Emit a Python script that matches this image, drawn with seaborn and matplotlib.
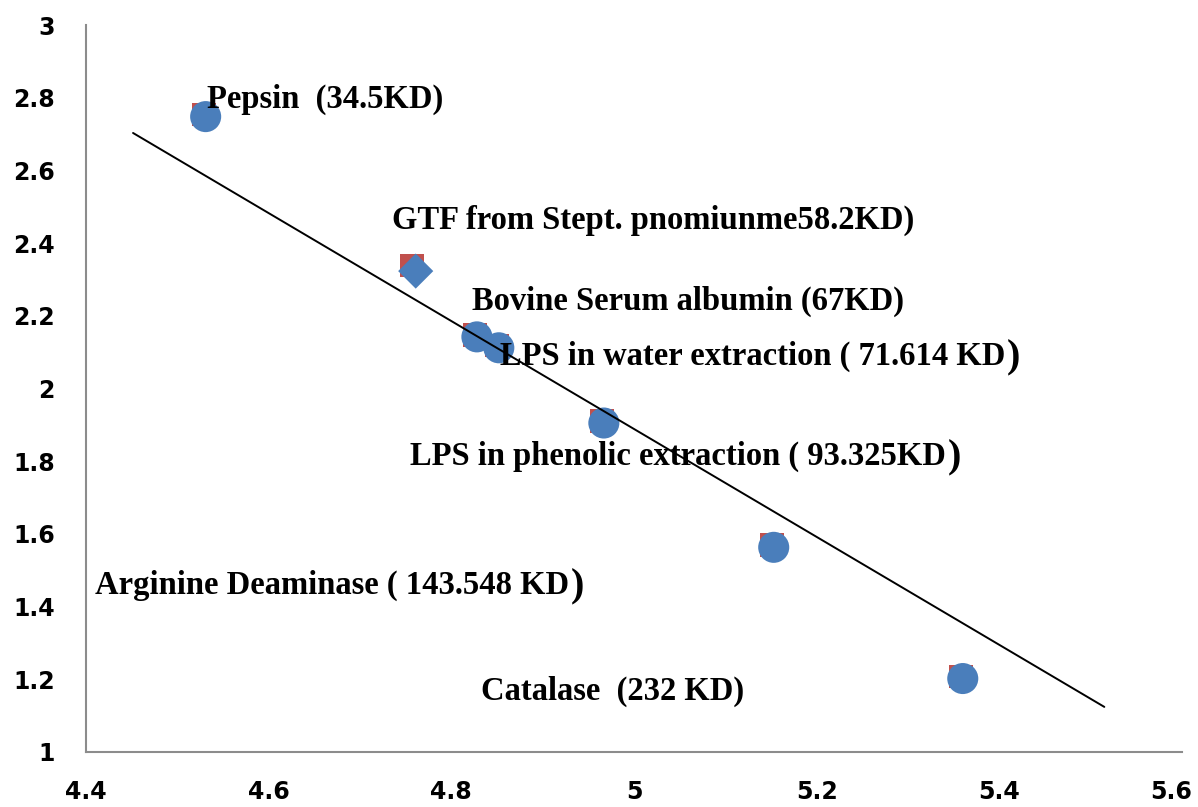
import matplotlib
matplotlib.use("Agg")
import matplotlib.pyplot as plt
import matplotlib.transforms as mtransforms
import seaborn as sns
import pandas as pd
import numpy as np

# log10 molecular weight vs. relative mobility of standard proteins
proteins = ["Pepsin", "GTF", "BSA", "LPS water", "LPS phenolic", "Arginine Deaminase", "Catalase"]
log_mw = [4.531, 4.761, 4.828, 4.852, 4.967, 5.153, 5.360]
mobility = [2.748, 2.323, 2.142, 2.112, 1.905, 1.563, 1.202]
marker_kind = ["circle", "diamond", "circle", "circle", "circle", "circle", "circle"]

# reference series drawn underneath
ref_log_mw = [4.529, 4.757, 4.826, 4.850, 4.965, 5.151, 5.358]
ref_mobility = [2.754, 2.338, 2.148, 2.118, 1.911, 1.569, 1.208]

# linear trend line end points
trend_x = [4.4515, 5.515]
trend_y = [2.703, 1.124]

labels = [
    "Pepsin  (34.5KD)",
    "GTF from Stept. pnomiunme58.2KD)",
    "Bovine Serum albumin (67KD)",
    "LPS in water extraction ( 71.614 KD",
    "LPS in phenolic extraction ( 93.325KD",
    "Arginine Deaminase ( 143.548 KD",
    "Catalase  (232 KD)",
]
label_x = [4.533, 4.735, 4.823, 4.853, 4.755, 4.410, 4.833]
label_y = [2.795, 2.462, 2.240, 2.089, 1.813, 1.458, 1.167]
big_paren = [False, False, False, True, True, True, False]

sns.set_theme(style="white")
plt.rcParams["font.family"] = ["DejaVu Sans"]
plt.rcParams["text.color"] = "black"

fig = plt.figure(figsize=(11.98, 8.07), dpi=100)
ax = fig.add_axes([0.0718, 0.0682, 0.9148, 0.9008])

ref = pd.DataFrame({"x": ref_log_mw, "y": ref_mobility})
sns.scatterplot(data=ref, x="x", y="y", marker="s", s=290, color="#C0504D",
                edgecolor="none", ax=ax, zorder=2)

df = pd.DataFrame({"x": log_mw, "y": mobility, "kind": marker_kind})
sns.scatterplot(data=df, x="x", y="y", style="kind",
                markers={"circle": "o", "diamond": "D"},
                size="kind", sizes={"circle": 500, "diamond": 320},
                color="#4A7EBB", edgecolor="none", legend=False, ax=ax, zorder=3)

sns.lineplot(x=trend_x, y=trend_y, color="black", linewidth=1.4, ax=ax, zorder=4)

serif = ["Liberation Serif", "DejaVu Serif"]
for txt, tx, ty, bp in zip(labels, label_x, label_y, big_paren):
    t = ax.text(tx, ty, txt, fontsize=23.5, fontweight="bold", family=serif,
                color="black", va="center", ha="left", zorder=5)
    if bp:
        ax.annotate(")", xy=(1.0, 0.45), xycoords=t, xytext=(1, 0),
                    textcoords="offset points", fontsize=29, fontweight="bold",
                    family=serif, color="black", va="center", ha="left", zorder=5)

ax.set_xlim(4.4, 5.6)
ax.set_ylim(1, 3)
ax.set_xticks(np.arange(4.4, 5.61, 0.2))
ax.set_yticks(np.arange(1.0, 3.01, 0.2))
ax.set_xticklabels(["4.4", "4.6", "4.8", "5", "5.2", "5.4", "5.6"])
ax.set_yticklabels(["1", "1.2", "1.4", "1.6", "1.8", "2", "2.2", "2.4", "2.6", "2.8", "3"])
ax.set_xlabel("")
ax.set_ylabel("")

for side in ["top", "right"]:
    ax.spines[side].set_visible(False)
for side in ["left", "bottom"]:
    ax.spines[side].set_color("#8C8C8C")
    ax.spines[side].set_linewidth(1.5)

ax.tick_params(axis="both", which="major", direction="out", length=9.5, width=1.3,
               color="#8C8C8C", labelsize=17, labelcolor="black")
ax.tick_params(axis="y", pad=13)
ax.tick_params(axis="x", pad=11)
for lab in ax.get_xticklabels() + ax.get_yticklabels():
    lab.set_fontweight("bold")

# keep the last x tick label inside the figure
last = ax.get_xticklabels()[-1]
last.set_transform(last.get_transform() +
                   mtransforms.ScaledTranslation(-8 / 72, 0, fig.dpi_scale_trans))

ax.set_facecolor("white")
fig.patch.set_facecolor("white")

fig.savefig("out.png", dpi=100, facecolor="white")
